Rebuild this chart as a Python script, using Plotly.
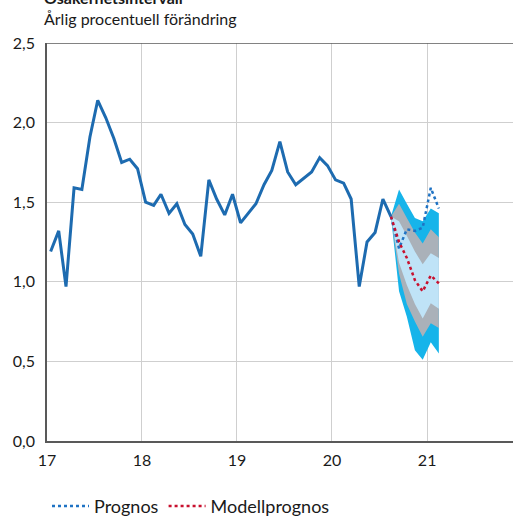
import pandas as pd
import plotly.graph_objects as go

# ---- data ----
outcome_start = "2017-01-15"
outcome = [1.19, 1.32, 0.97, 1.59, 1.58, 1.91, 2.14, 2.03, 1.90, 1.75, 1.77, 1.71,
           1.50, 1.48, 1.55, 1.43, 1.49, 1.36, 1.30, 1.16, 1.64, 1.52, 1.42, 1.55,
           1.37, 1.43, 1.49, 1.61, 1.70, 1.88, 1.69, 1.61, 1.65, 1.69, 1.78, 1.73,
           1.64, 1.62, 1.52, 0.97, 1.25, 1.31, 1.52, 1.41]

forecast_start = "2020-08-15"
prognos = [1.41, 1.21, 1.33, 1.32, 1.34, 1.59, 1.46]
modellprognos = [1.41, 1.25, 1.15, 1.01, 0.94, 1.04, 0.99]

outer_upper = [1.41, 1.58, 1.49, 1.40, 1.38, 1.46, 1.43]
outer_lower = [1.41, 0.94, 0.78, 0.57, 0.51, 0.62, 0.55]
mid_upper = [1.41, 1.49, 1.40, 1.31, 1.24, 1.33, 1.28]
mid_lower = [1.41, 1.05, 0.86, 0.75, 0.655, 0.74, 0.71]
inner_upper = [1.41, 1.38, 1.29, 1.19, 1.11, 1.18, 1.15]
inner_lower = [1.41, 1.12, 0.98, 0.86, 0.77, 0.865, 0.83]

year_ticks = ["2017-01-01", "2018-01-01", "2019-01-01", "2020-01-01", "2021-01-01"]
year_labels = ["17", "18", "19", "20", "21"]
y_ticks = [0, 0.5, 1.0, 1.5, 2.0, 2.5]

title_text = "Osäkerhetsintervall"
subtitle_text = "Årlig procentuell förändring"

# ---- derived ----
def monthly(start, n):
    s = pd.Timestamp(start)
    return [(s + pd.DateOffset(months=i)) for i in range(n)]

x_out = monthly(outcome_start, len(outcome))
x_fc = monthly(forecast_start, len(prognos))

FONT = "Lato"
C_OUTER = "#16b4ea"
C_MID = "#aab1b9"
C_INNER = "#bfe3f7"
C_LINE = "#1d6bb0"
C_PROG = "#1f73c4"
C_MOD = "#c8102e"

fig = go.Figure()

def band(upper, lower, color):
    fig.add_trace(go.Scatter(
        x=x_fc + x_fc[::-1], y=upper + lower[::-1],
        fill="toself", fillcolor=color, mode="lines",
        line=dict(width=0, color=color), showlegend=False, hoverinfo="skip"))

band(outer_upper, outer_lower, C_OUTER)
band(mid_upper, mid_lower, C_MID)
band(inner_upper, inner_lower, C_INNER)

fig.add_trace(go.Scatter(x=x_out, y=outcome, mode="lines",
                         line=dict(color=C_LINE, width=3), showlegend=False))
fig.add_trace(go.Scatter(x=x_fc, y=prognos, mode="lines", name="Prognos",
                         line=dict(color=C_PROG, width=2.5, dash="dot")))
fig.add_trace(go.Scatter(x=x_fc, y=modellprognos, mode="lines", name="Modellprognos",
                         line=dict(color=C_MOD, width=2.5, dash="dot")))

fig.add_shape(type="line", xref="paper", yref="y", x0=0, x1=1, y0=2.5, y1=2.5,
              line=dict(color="#595959", width=1.5))

fig.update_layout(
    width=513, height=518,
    margin=dict(l=47, r=0, t=43, b=77, autoexpand=False),
    paper_bgcolor="white", plot_bgcolor="white",
    separators=", ",
    font=dict(family=FONT, size=16, color="#1a1a1a"),
    showlegend=True,
    legend=dict(orientation="h", x=0.0, xanchor="left", y=-0.164, yanchor="middle",
                font=dict(size=18), itemwidth=37, tracegroupgap=0),
    xaxis=dict(type="date", range=["2017-01-01", "2021-11-27"],
               tickvals=year_ticks, ticktext=year_labels,
               showgrid=True, gridcolor="#cfcfcf", gridwidth=1,
               showline=True, linecolor="#595959", linewidth=1.5,
               ticks="", ticklabelstandoff=4, zeroline=False),
    yaxis=dict(range=[0, 2.5], tickvals=y_ticks, tickformat=".1f",
               showgrid=True, gridcolor="#cfcfcf", gridwidth=1,
               showline=True, linecolor="#595959", linewidth=1.5,
               ticks="", ticklabelstandoff=7, zeroline=False),
    annotations=[
        dict(text="<b>" + title_text + "</b>", xref="paper", yref="paper",
             x=-0.011, y=1 + 34 / 398, xanchor="left", yanchor="bottom",
             showarrow=False, font=dict(size=16)),
        dict(text=subtitle_text, xref="paper", yref="paper",
             x=-0.011, y=1 + 13 / 398, xanchor="left", yanchor="bottom",
             showarrow=False, font=dict(size=16)),
    ],
)

fig.write_html("out.html", config={"displayModeBar": False},
               post_script="document.body.style.margin='0';")
